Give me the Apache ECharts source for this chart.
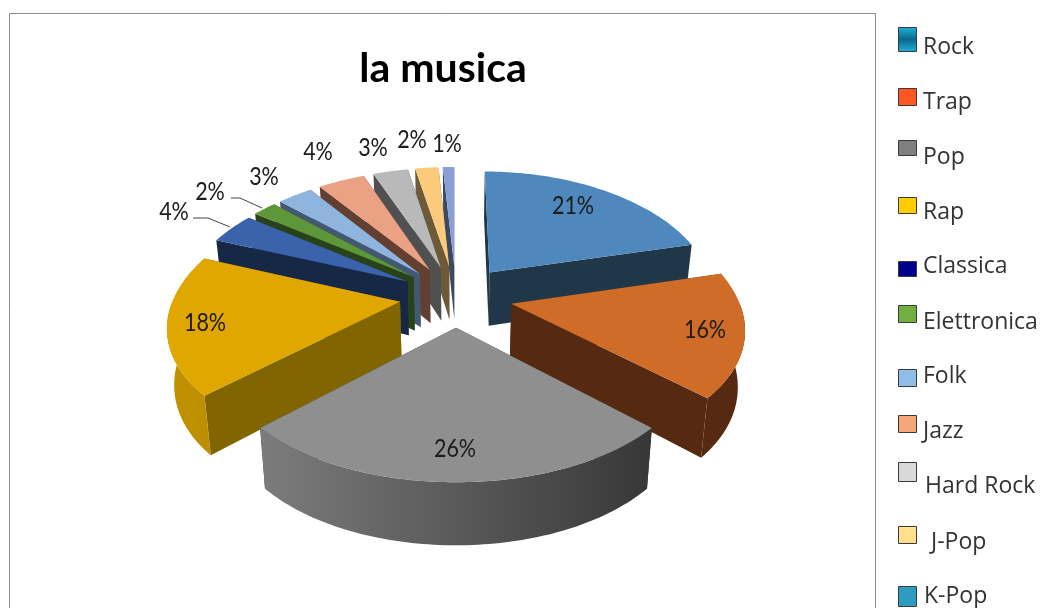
<!DOCTYPE html>
<html>
<head>
<meta charset="utf-8">
<style>html,body{margin:0;padding:0;background:#fff}#chart{width:1042px;height:608px}</style>
<script src="https://cdn.jsdelivr.net/npm/echarts@6/dist/echarts.min.js"></script>
</head>
<body>
<div id="chart"></div>
<script>
// Genres and their percentage shares, clockwise from twelve o'clock
const categories = ['Rock','Trap','Pop','Rap','Classica','Elettronica','Folk','Jazz','Hard Rock','J-Pop','K-Pop'];
const shares = [21,16,26,18,4,2,3,4,3,2,1];

// Slice colours: top face, cut faces, rim left and right ends
const topColors = ['#4e88bc','#ce6c28','#8f8f8f','#e0a700','#3a63ab','#5d9739','#8fb4de','#eba184','#b9b9b9','#fbca7a','#8a9fd4'];
const cutColors = ['#203649','#552a10','#3a3a3a','#806500','#172847','#2a421a','#435872','#633f32','#505050','#6e5a38','#3b4860'];
const rimLeft   = ['#203649','#552a10','#7c7c7c','#c29000','#172847','#2a421a','#435872','#633f32','#505050','#6e5a38','#3b4860'];
const rimRight  = ['#203649','#552a10','#373737','#bc8f00','#172847','#2a421a','#435872','#633f32','#505050','#6e5a38','#3b4860'];

// Legend swatch fills
const swatchColors = ['#1fb0e0','#ff5722','#808080','#ffcc00','#00008b','#6fb03f','#8fbde8','#f2a877','#d9d9d9','#ffe08c','#2e9cc0'];

// Hand placement of the legend rows and the percentage labels
const swatchTop = [27,88,140,197,261,305,369,415,462,526,586];
const swatchBottom = [52,106,156,214,277,323,387,433,482,544,607];
const legendTextX = [923,923,923,923,923,923,923,923,925,931,924];
const legendTextY = [47,102,157,212,266,322,376,431,486,542,596];
const labelX = [573,705,455,205,174,210,264,318,373,412,447];
const labelY = [206,330,449,323,212,192,177,152,148,140,144];

// Projection of the tilted pie
const VIEW = {cx:456, cy:296, rx:226, ry:122, perspX:0.17, perspY:0.145, explode:0.25, depth:54.5, depthGrow:0.125, shrink:0.975};
const TAU = Math.PI*2;
const total = shares.reduce((a,b)=>a+b,0);
const starts = shares.map((_,i)=>shares.slice(0,i).reduce((a,b)=>a+b,0));

function project(X,Y,low){
  const sx = 1/(1-VIEW.perspX*Y), sy = 1/(1-VIEW.perspY*Y);
  const f = low ? VIEW.shrink : 1;
  const drop = low ? VIEW.depth*(1+VIEW.depthGrow*Y) : 0;
  return [VIEW.cx + VIEW.rx*X*sx*f, VIEW.cy + VIEW.ry*Y*sy + drop];
}
function sliceGeometry(start,value){
  const a0 = start/total*TAU, a1 = (start+value)/total*TAU, mid=(a0+a1)/2;
  const ox = VIEW.explode*Math.sin(mid), oy = -VIEW.explode*Math.cos(mid);
  const rim = (a,low)=>project(ox+Math.sin(a), oy-Math.cos(a), low);
  const apex = low=>project(ox,oy,low);
  return {a0,a1,rim,apex};
}
function arcPoints(g,from,to,low){
  const n = Math.max(2,Math.ceil((to-from)/0.02));
  const pts=[];
  for(let k=0;k<=n;k++) pts.push(g.rim(from+(to-from)*k/n,low));
  return pts;
}

// Painter's order: slices pushed furthest back are drawn first
const drawOrder = categories.map((_,i)=>i).sort((p,q)=>{
  const depth = i=>-Math.cos((starts[i]+shares[i]/2)/total*TAU);
  return depth(p)-depth(q);
});

function renderSlice(params,api){
  const value = api.value(0), idx = api.value(1), start = api.value(2);
  const g = sliceGeometry(start,value);
  const children=[];
  const poly=(points,fill)=>children.push({type:'polygon',shape:{points},style:{fill,stroke:null},silent:true});
  // cut faces
  [g.a0,g.a1].forEach(a=>{
    poly([g.apex(false),g.rim(a,false),g.rim(a,true),g.apex(true)],cutColors[idx]);
  });
  // rim, only the part turned towards the viewer
  const from=Math.max(g.a0,Math.PI*0.5), to=Math.min(g.a1,Math.PI*1.5);
  if(to>from){
    const upper=arcPoints(g,from,to,false), lower=arcPoints(g,from,to,true);
    const xs=upper.concat(lower).map(p=>p[0]);
    const x0=Math.min(...xs), x1=Math.max(...xs);
    poly(upper.concat(lower.reverse()),new echarts.graphic.LinearGradient(x0,0,x1,0,[
      {offset:0,color:rimLeft[idx]},{offset:1,color:rimRight[idx]}],true));
  }
  // top face
  poly([g.apex(false)].concat(arcPoints(g,g.a0,g.a1,false)),topColors[idx]);
  // percentage, condensed horizontally
  children.push({type:'text',z2:100,silent:true,x:labelX[idx],y:labelY[idx],scaleX:0.86,style:{
    text:Math.round(value/total*100)+'%',x:0,y:0,
    align:'center',verticalAlign:'middle',font:'25px Lato',fill:'#1c1c1c'}});
  return {type:'group',children};
}

// Frame, leader lines and the hand-spaced legend
const graphics=[
  {type:'rect',shape:{x:9.5,y:13.5,width:866,height:640},style:{fill:'none',stroke:'#8c8c8c',lineWidth:1},silent:true},
  {type:'polyline',shape:{points:[[193,218],[208,218],[230,227]]},style:{fill:'none',stroke:'#444',lineWidth:1},silent:true},
  {type:'polyline',shape:{points:[[231,198],[240,198],[262,208]]},style:{fill:'none',stroke:'#444',lineWidth:1},silent:true}
];
categories.forEach((name,i)=>{
  const fill = i===0
    ? new echarts.graphic.LinearGradient(0,0,0,1,[{offset:0,color:'#1fb0e0'},{offset:0.5,color:'#0a6a8a'},{offset:1,color:'#1fb0e0'}])
    : swatchColors[i];
  graphics.push({type:'rect',shape:{x:898.5,y:swatchTop[i]+0.5,width:18,height:swatchBottom[i]-swatchTop[i]-1},
    style:{fill,stroke:'#3a3a3a',lineWidth:1},silent:true});
  graphics.push({type:'text',silent:true,style:{text:name,x:legendTextX[i],y:legendTextY[i],
    verticalAlign:'middle',font:'23px "Open Sans"',fill:'#333'}});
});

const chart=echarts.init(document.getElementById('chart'),null,{renderer:'canvas'});
chart.setOption({
  animation:false,
  backgroundColor:'#fff',
  title:{text:'la musica',left:438,top:43,textAlign:'center',
    textStyle:{fontFamily:'Lato',fontWeight:'bold',fontSize:41,color:'#000'}},
  graphic:graphics,
  series:[{
    type:'custom',
    coordinateSystem:'none',
    renderItem:renderSlice,
    data:drawOrder.map(i=>[shares[i],i,starts[i]])
  }]
});
</script>
</body>
</html>
